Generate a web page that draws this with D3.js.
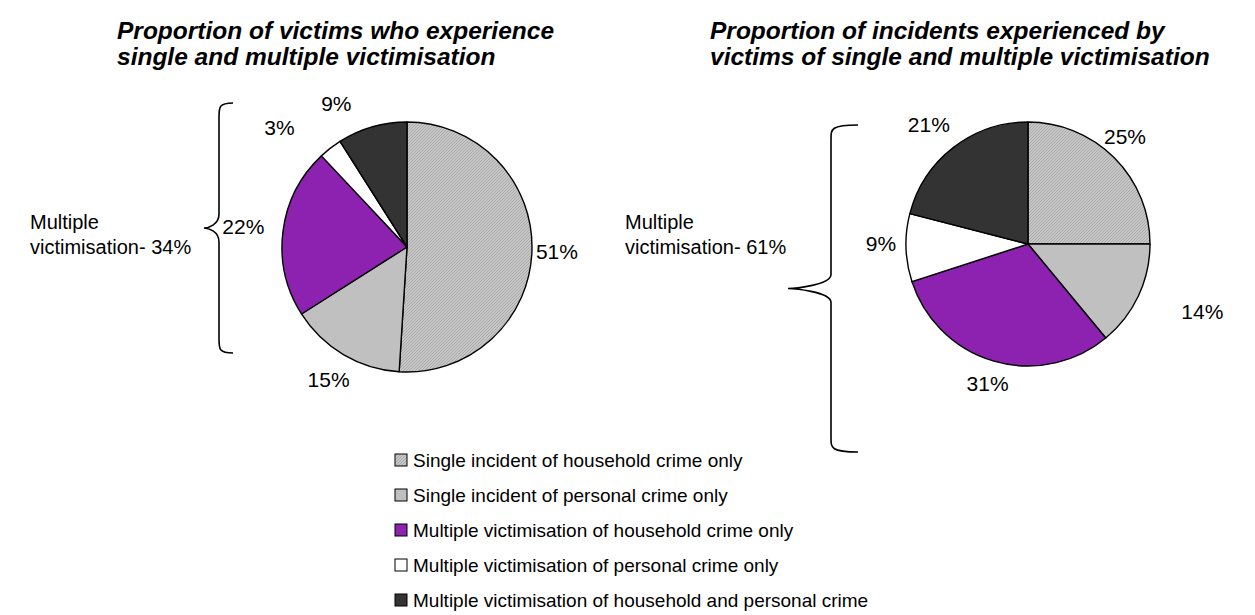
<!DOCTYPE html>
<html>
<head>
<meta charset="utf-8">
<script src="https://cdn.jsdelivr.net/npm/d3@7"></script>
<style>
  html, body { margin: 0; padding: 0; background: #fff; }
  svg { display: block; font-family: "Liberation Sans", Arial, sans-serif; }
</style>
</head>
<body>
<svg id="chart" width="1255" height="615"></svg>
<script>
// Victimisation categories (legend order = slice order, clockwise from 12 o'clock)
const categories = [
  "Single incident of household crime only",
  "Single incident of personal crime only",
  "Multiple victimisation of household crime only",
  "Multiple victimisation of personal crime only",
  "Multiple victimisation of household and personal crime"
];

// Share of victims (%)
const victimShares = [51, 15, 22, 3, 9];
// Share of incidents (%)
const incidentShares = [25, 14, 31, 9, 21];

// Multiple victimisation totals shown beside the braces
const multipleVictimTotal = 34;
const multipleIncidentTotal = 61;

const titles = [
  ["Proportion of victims who experience", "single and multiple victimisation"],
  ["Proportion of incidents experienced by", "victims of single and multiple victimisation"]
];

// Slice fills
const fills = ["url(#hatch)", "#c0c0c0", "#8e22b0", "#ffffff", "#333333"];

// Label placement: distance from centre and small angular nudge (degrees)
const victimLabelLayout = [[150, 0], [154, 0], [165, 0], [175, -9], [160, -10]];
const incidentLabelLayout = [[145, -3], [187, -4], [145, 0], [147, 2], [155, -2]];

const svg = d3.select("#chart");

// Fine diagonal hatch for the household single-incident slice
const defs = svg.append("defs");
const pat = defs.append("pattern")
  .attr("id", "hatch")
  .attr("patternUnits", "userSpaceOnUse")
  .attr("width", 3).attr("height", 3);
pat.append("rect").attr("width", 3).attr("height", 3).attr("fill", "#c6c6c6");
pat.append("path").attr("d", "M0,3 L3,0").attr("stroke", "#a8a8a8").attr("stroke-width", 0.9);

const pie = d3.pie().sort(null).value(d => d);

function drawPie(values, cx, cy, r, layout) {
  const g = svg.append("g").attr("transform", `translate(${cx},${cy})`);
  const arcs = pie(values);
  const arc = d3.arc().innerRadius(0).outerRadius(r);

  g.selectAll("path.slice")
    .data(arcs)
    .join("path")
    .attr("class", "slice")
    .attr("d", arc)
    .attr("fill", (d, i) => fills[i])
    .attr("stroke", "#000")
    .attr("stroke-width", 1.4)
    .attr("stroke-linejoin", "round");

  g.selectAll("text.pct")
    .data(arcs)
    .join("text")
    .attr("class", "pct")
    .attr("transform", (d, i) => {
      const [rad, nudge] = layout[i];
      const a = (d.startAngle + d.endAngle) / 2 + nudge * Math.PI / 180;
      return `translate(${rad * Math.sin(a)},${-rad * Math.cos(a)})`;
    })
    .attr("text-anchor", "middle")
    .attr("dy", "0.35em")
    .attr("font-size", 21)
    .attr("fill", "#000")
    .text(d => d.data + "%");
}

drawPie(victimShares, 407, 247, 125, victimLabelLayout);
drawPie(incidentShares, 1028, 244, 122, incidentLabelLayout);

// Titles
function drawTitle(lines, x, y) {
  const t = svg.append("text")
    .attr("x", x).attr("y", y)
    .attr("font-size", 24.5)
    .attr("font-weight", "bold")
    .attr("font-style", "italic")
    .attr("fill", "#000");
  lines.forEach((ln, i) => {
    t.append("tspan").attr("x", x).attr("dy", i === 0 ? 0 : 26).text(ln);
  });
}
drawTitle(titles[0], 117, 39);
drawTitle(titles[1], 710, 39);

// Curly braces grouping the multiple-victimisation slices
function brace(xTip, xLine, xEnd, yTop, yBot) {
  const ym = (yTop + yBot) / 2;
  const c = 14;
  return `M${xEnd},${yTop}
          C${xLine},${yTop} ${xLine},${yTop + 4} ${xLine},${yTop + c}
          L${xLine},${ym - c}
          C${xLine},${ym - 3} ${xTip + 4},${ym} ${xTip},${ym}
          C${xTip + 4},${ym} ${xLine},${ym + 3} ${xLine},${ym + c}
          L${xLine},${yBot - c}
          C${xLine},${yBot - 4} ${xLine},${yBot} ${xEnd},${yBot}`;
}
svg.append("path").attr("d", brace(204, 219, 233, 103, 353))
  .attr("fill", "none").attr("stroke", "#000").attr("stroke-width", 1.6);
svg.append("path").attr("d", brace(788, 831, 858, 125, 452))
  .attr("fill", "none").attr("stroke", "#000").attr("stroke-width", 1.6);

function drawGroupLabel(total, x, y) {
  const t = svg.append("text").attr("x", x).attr("y", y)
    .attr("font-size", 20).attr("fill", "#000");
  t.append("tspan").attr("x", x).attr("dy", 0).text("Multiple");
  t.append("tspan").attr("x", x).attr("dy", 25).text(`victimisation- ${total}%`);
}
drawGroupLabel(multipleVictimTotal, 30, 229);
drawGroupLabel(multipleIncidentTotal, 625, 229);

// Legend
const legend = svg.append("g").attr("transform", "translate(395,460)");
const rows = legend.selectAll("g.row")
  .data(categories)
  .join("g")
  .attr("class", "row")
  .attr("transform", (d, i) => `translate(0,${i * 35})`);
rows.append("rect")
  .attr("x", 0).attr("y", -6).attr("width", 12).attr("height", 12)
  .attr("fill", (d, i) => fills[i])
  .attr("stroke", "#000").attr("stroke-width", 1);
rows.append("text")
  .attr("x", 18).attr("dy", "0.35em")
  .attr("font-size", 19).attr("fill", "#000")
  .text(d => d);
</script>
</body>
</html>
